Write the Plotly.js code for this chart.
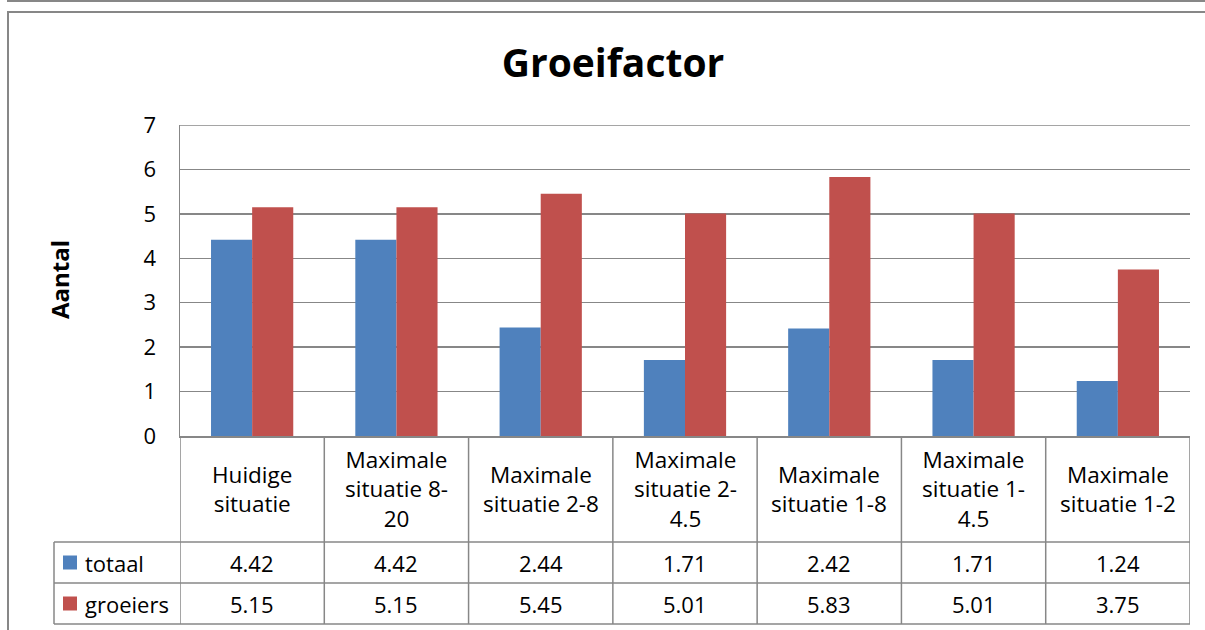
<!DOCTYPE html>
<html>
<head>
<meta charset="utf-8">
<script src="https://cdn.plot.ly/plotly-3.0.1.min.js"></script>
<style>html,body{margin:0;padding:0;background:#fff;}#chart{width:1205px;height:630px;}</style>
</head>
<body>
<div id="chart"></div>
<script>
// ---- data ----
var categories = ["Huidige<br>situatie", "Maximale<br>situatie 8-<br>20", "Maximale<br>situatie 2-8", "Maximale<br>situatie 2-<br>4.5", "Maximale<br>situatie 1-8", "Maximale<br>situatie 1-<br>4.5", "Maximale<br>situatie 1-2"];
var seriesNames = ["totaal", "groeiers"];
var totaal = [4.42, 4.42, 2.44, 1.71, 2.42, 1.71, 1.24];
var groeiers = [5.15, 5.15, 5.45, 5.01, 5.83, 5.01, 3.75];
var yTicks = [0, 1, 2, 3, 4, 5, 6, 7];
var chartTitle = "Groeifactor";
var yTitle = "Aantal";

// ---- layout helpers (pixel -> paper) ----
var W = 1205, H = 630;
var L = 180, R = 1190, T = 125, B = 436;
function px(x) { return (x - L) / (R - L); }
function py(y) { return (B - y) / (B - T); }

var FONT = "Open Sans, Liberation Sans, sans-serif";
var BLUE = "#4F81BD", RED = "#C0504D";
var LINE = "#878787";
var idx = categories.map(function (c, i) { return i; });

var traces = [
  { type: "bar", x: idx, y: totaal, name: seriesNames[0], marker: { color: BLUE }, hoverinfo: "y" },
  { type: "bar", x: idx, y: groeiers, name: seriesNames[1], marker: { color: RED }, hoverinfo: "y" }
];

var shapes = [];
var annotations = [];

// outer frames
shapes.push({ type: "path", xref: "paper", yref: "paper", path: "M " + px(8) + "," + py(-2) + " L " + px(8) + "," + py(1) + " L " + px(1215) + "," + py(1), line: { color: LINE, width: 2 } });
shapes.push({ type: "rect", xref: "paper", yref: "paper", x0: px(8), y0: py(12), x1: px(1220), y1: py(650), line: { color: LINE, width: 2 } });
// top border of plot area (gridline at max)
shapes.push({ type: "line", xref: "paper", yref: "y", x0: 0, x1: 1, y0: yTicks[yTicks.length - 1], y1: yTicks[yTicks.length - 1], line: { color: LINE, width: 1.5 }, layer: "below" });

// table grid
var rowTop = 436, rowHdr = 542, row1 = 583, row2 = 624, legL = 54;
for (var i = 0; i <= categories.length; i++) {
  shapes.push({ type: "line", xref: "x", yref: "paper", x0: i - 0.5, x1: i - 0.5, y0: py(rowTop), y1: py(row2), line: { color: LINE, width: 1.5 } });
}
shapes.push({ type: "line", xref: "paper", yref: "paper", x0: px(legL), x1: px(legL), y0: py(rowHdr), y1: py(row2), line: { color: LINE, width: 1.5 } });
[rowHdr, row1, row2].forEach(function (yy) {
  shapes.push({ type: "line", xref: "paper", yref: "paper", x0: px(legL), x1: 1, y0: py(yy), y1: py(yy), line: { color: LINE, width: 1.5 } });
});

// legend keys in table
var keyColors = [BLUE, RED];
var rowCenters = [(rowHdr + row1) / 2, (row1 + row2) / 2];
var seriesVals = [totaal, groeiers];
for (var r = 0; r < 2; r++) {
  shapes.push({ type: "rect", xref: "paper", yref: "paper", x0: px(63), x1: px(77), y0: py(rowCenters[r] - 7), y1: py(rowCenters[r] + 7), fillcolor: keyColors[r], line: { width: 0 } });
  annotations.push({ xref: "paper", yref: "paper", x: px(83), y: py(rowCenters[r]), xanchor: "left", yanchor: "middle", showarrow: false, text: seriesNames[r], font: { family: FONT, size: 22, color: "#000" } });
  for (var c = 0; c < categories.length; c++) {
    annotations.push({ xref: "x", yref: "paper", x: c, y: py(rowCenters[r]), xanchor: "center", yanchor: "middle", showarrow: false, text: seriesVals[r][c].toFixed(2), font: { family: FONT, size: 22, color: "#000" } });
  }
}
// category headers
for (var c2 = 0; c2 < categories.length; c2++) {
  annotations.push({ xref: "x", yref: "paper", x: c2, y: py((rowTop + rowHdr) / 2), xanchor: "center", yanchor: "middle", showarrow: false, text: categories[c2], align: "center", font: { family: FONT, size: 22.5, color: "#000" } });
}
// y title
annotations.push({ xref: "paper", yref: "paper", x: px(59), y: py(280), xanchor: "center", yanchor: "middle", showarrow: false, textangle: -90, text: "<b>" + yTitle + "</b>", font: { family: FONT, size: 24, color: "#000" } });

var layout = {
  width: W, height: H,
  margin: { l: L, r: W - R, t: T, b: H - B, pad: 0 },
  paper_bgcolor: "#fff", plot_bgcolor: "#fff",
  showlegend: false,
  barmode: "group", bargap: 0.43, bargroupgap: 0,
  title: { text: "<b>" + chartTitle + "</b>", x: 613 / W, xref: "container", xanchor: "center", y: 1 - 63 / H, yref: "container", yanchor: "middle", font: { family: FONT, size: 39, color: "#000" } },
  xaxis: { range: [-0.5, categories.length - 0.5], showticklabels: false, ticks: "", showgrid: false, zeroline: false, showline: true, linecolor: LINE, linewidth: 1.5, fixedrange: true },
  yaxis: { range: [0, 7], tickvals: yTicks, ticktext: yTicks.map(String), ticks: "", ticklen: 0, showgrid: true, gridcolor: LINE, gridwidth: 1.5, zeroline: false, showline: true, linecolor: LINE, linewidth: 1.5, tickfont: { family: FONT, size: 22, color: "#000" }, ticklabelstandoff: 18, fixedrange: true },
  shapes: shapes,
  annotations: annotations
};

Plotly.newPlot("chart", traces, layout, { displayModeBar: false, staticPlot: true });
</script>
</body>
</html>
